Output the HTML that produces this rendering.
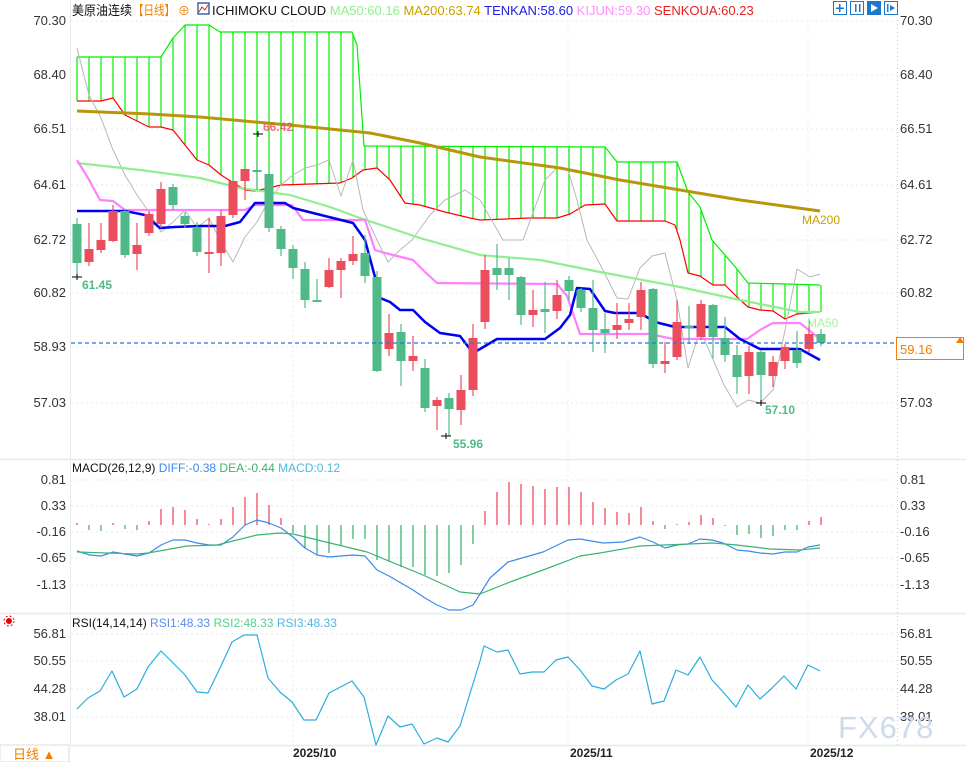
<!DOCTYPE html>
<html><head><meta charset="utf-8"><style>
html,body{margin:0;padding:0;background:#fff;}
body{width:966px;height:762px;overflow:hidden;font-family:"Liberation Sans","Noto Sans CJK SC",sans-serif;}
svg text{font-family:"Liberation Sans","Noto Sans CJK SC",sans-serif;}
</style></head><body>
<svg id="s" width="966" height="762" xmlns="http://www.w3.org/2000/svg">
<g id="g"></g>
<!-- header -->
<text x="72" y="15" font-size="13" fill="#111" textLength="60" lengthAdjust="spacingAndGlyphs">美原油连续</text>
<text x="133" y="15" font-size="13" fill="#f08000" textLength="42" lengthAdjust="spacingAndGlyphs">【日线】</text>
<text x="178" y="15" font-size="12" fill="#f08000">⊕</text>
<rect x="198" y="3" width="11" height="11" fill="none" stroke="#1a3c8c" stroke-width="1.2"/>
<polyline points="199,12 202,7 205,10 208,5" fill="none" stroke="#d22" stroke-width="1"/>
<text x="212" y="15" font-size="13"><tspan fill="#111">ICHIMOKU CLOUD </tspan><tspan fill="#90ee90"> MA50:60.16 </tspan><tspan fill="#c8a000"> MA200:63.74 </tspan><tspan fill="#2020e0"> TENKAN:58.60 </tspan><tspan fill="#ff90ff"> KIJUN:59.30 </tspan><tspan fill="#e82020"> SENKOUA:60.23</tspan></text>
<g fill="none" stroke="#1e78c8" stroke-width="1">
<rect x="833.5" y="1.5" width="13" height="13"/><rect x="850.5" y="1.5" width="13" height="13"/><rect x="867.5" y="1.5" width="13" height="13" fill="#1e78c8"/><rect x="884.5" y="1.5" width="13" height="13"/>
</g>
<g fill="#1e78c8"><rect x="839" y="4" width="1.5" height="8"/><rect x="836" y="7.5" width="8" height="1.5"/><rect x="855" y="4" width="1.5" height="8"/><rect x="859" y="4" width="1.5" height="8"/><rect x="887" y="4" width="1.5" height="8"/><polygon points="890,5 895,8 890,11"/></g>
<polygon points="871,4 878,8 871,12" fill="#fff"/>
<!-- annotations -->
<text x="263" y="131" font-size="12" font-weight="bold" fill="#e85060" opacity="0.8">66.42</text>
<text x="82" y="289" font-size="12" font-weight="bold" fill="#4fb987">61.45</text>
<text x="453" y="448" font-size="12" font-weight="bold" fill="#4fb987">55.96</text>
<text x="765" y="414" font-size="12" font-weight="bold" fill="#4fb987">57.10</text>
<text x="802" y="224" font-size="12" fill="#c8a000">MA200</text>
<text x="807" y="327" font-size="12" fill="#a8f0a8">MA50</text>
<rect x="896.5" y="337.5" width="67" height="22" fill="#fff" stroke="#f57c00"/>
<text x="900" y="354" font-size="13" fill="#f57c00">59.16</text>
<polygon points="956,343 960,337 964,343" fill="#f57c00"/>
<text x="72" y="472" font-size="12" fill="#111">MACD(26,12,9) <tspan fill="#3b8beb">DIFF:-0.38</tspan> <tspan fill="#3cb371"> DEA:-0.44</tspan> <tspan fill="#50b8e0"> MACD:0.12</tspan></text>
<text x="72" y="627" font-size="12" fill="#111">RSI(14,14,14) <tspan fill="#5a8cf0">RSI1:48.33</tspan> <tspan fill="#50d090"> RSI2:48.33</tspan> <tspan fill="#50b8e0"> RSI3:48.33</tspan></text>
<circle cx="9" cy="621" r="3" fill="#e00"/><circle cx="9" cy="621" r="5" fill="none" stroke="#e00" stroke-dasharray="2,2"/>
<text x="293" y="757" font-size="12" font-weight="bold" fill="#222">2025/10</text>
<text x="570" y="757" font-size="12" font-weight="bold" fill="#222">2025/11</text>
<text x="810" y="757" font-size="12" font-weight="bold" fill="#222">2025/12</text>
<rect x="0" y="745" width="69" height="17" fill="#fff" stroke="#ddd"/>
<text x="13" y="759" font-size="13" fill="#f08000">日线 ▲</text>
<text x="838" y="738" font-size="31" fill="#c8d8ea" opacity="0.9" letter-spacing="1">FX678</text>
</svg>
<script>
var g=document.getElementById('g'),h='';
function L(x1,y1,x2,y2,c,w,d){h+='<line x1="'+x1+'" y1="'+y1+'" x2="'+x2+'" y2="'+y2+'" stroke="'+c+'" stroke-width="'+(w||1)+'"'+(d?' stroke-dasharray="'+d+'"':'')+'/>';}
function P(pts,c,w){h+='<polyline fill="none" stroke="'+c+'" stroke-width="'+w+'" stroke-linejoin="round" points="'+pts.map(function(p){return p.join(',')}).join(' ')+'"/>';}
function T(x,y,t,a){h+='<text x="'+x+'" y="'+y+'" font-size="13" fill="#333"'+(a?' text-anchor="end"':'')+'>'+t+'</text>';}
function interp(pts,x){for(var i=0;i<pts.length-1;i++){if(x>=pts[i][0]&&x<=pts[i+1][0]){var t=(x-pts[i][0])/(pts[i+1][0]-pts[i][0]||1);return pts[i][1]+t*(pts[i+1][1]-pts[i][1]);}}return pts[pts.length-1][1];}
L(0,459.5,966,459.5,'#e4eaee',1.5);L(0,613.5,966,613.5,'#e4eaee',1.5);L(70,745.5,966,745.5,'#e4eaee',1.5);
L(70.5,0,70.5,745,'#e6ecf0');L(897.5,20,897.5,745,'#ccc',1,'1,3');
var main=[[21,'70.30'],[75,'68.40'],[129,'66.51'],[185,'64.61'],[240,'62.72'],[293,'60.82'],[347,'58.93'],[403,'57.03']];
main.forEach(function(a){L(71,a[0],897,a[0],'#e8e8e8',1,'2,3');T(66,a[0]+4,a[1],1);T(900,a[0]+4,a[1]);});
var mac=[[480,'0.81'],[506,'0.33'],[532,'-0.16'],[558,'-0.65'],[585,'-1.13']];
mac.forEach(function(a){L(71,a[0],897,a[0],'#e8e8e8',1,'2,3');T(66,a[0]+4,a[1],1);T(900,a[0]+4,a[1]);});
var rs=[[634,'56.81'],[661,'50.55'],[689,'44.28'],[717,'38.01']];
rs.forEach(function(a){L(71,a[0],897,a[0],'#e8e8e8',1,'2,3');T(66,a[0]+4,a[1],1);if(a[1]!='38.01')T(900,a[0]+4,a[1]);});
T(900,721,'38.01');
[293,568,808].forEach(function(x){L(x,20,x,745,'#e8e8e8',1,'2,3');});
var up=[[77,57],[161,57],[173,38],[185,25],[209,25],[220,32],[352,32],[357,45],[364,146],[605,147],[617,162],[677,162],[688,192],[700,207],[712,240],[725,255],[737,269],[748,283],[820,285]];
var lo=[[77,101],[101,101],[113,98],[125,115],[149,127],[161,127],[173,130],[185,145],[197,160],[209,165],[221,175],[245,190],[255,191],[269,188],[281,185],[340,183],[352,178],[363,170],[377,168],[390,180],[405,203],[420,205],[445,212],[470,218],[480,220],[530,218],[557,218],[570,214],[585,205],[605,204],[617,221],[665,221],[675,225],[680,240],[688,273],[700,276],[713,285],[725,285],[737,297],[748,307],[760,310],[773,311],[785,319],[797,314],[820,312]];
for(var i=0;i<63;i++){var x=77+12*i;L(x,interp(up,x),x,interp(lo,x),'#00ee00',1.2);}
P(up,'#00ee00',1.2);P(lo,'#ff0000',1.2);
P([[77,48],[89,95],[101,118],[113,150],[125,175],[137,195],[149,212],[161,232],[173,222],[185,210],[197,228],[209,218],[221,242],[233,262],[245,237],[257,222],[269,200],[281,185],[293,175],[305,168],[317,165],[329,160],[341,196],[353,160],[363,210],[377,240],[388,262],[400,250],[412,240],[430,215],[445,200],[465,190],[480,200],[503,240],[523,240],[545,180],[557,168],[568,170],[577,200],[587,240],[603,270],[617,298],[628,299],[640,268],[652,256],[665,253],[677,300],[688,368],[700,330],[712,357],[724,385],[737,407],[748,400],[760,403],[773,390],[785,330],[797,269],[810,277],[820,274]],'#b8b8b8',1);
P([[77,111],[150,114],[200,117],[300,126],[370,133],[420,143],[480,157],[560,168],[620,180],[680,190],[740,200],[820,211]],'#b8960c',3);
P([[77,163],[140,170],[200,178],[240,188],[290,195],[330,207],[360,218],[420,238],[480,255],[540,260],[600,272],[680,287],[740,300],[800,312],[820,312]],'#90ee90',2.2);
P([[77,160],[88,178],[100,200],[113,201],[125,210],[245,210],[255,205],[292,205],[303,220],[365,220],[375,250],[385,253],[405,258],[413,260],[425,272],[437,283],[557,284],[567,296],[580,334],[650,334],[673,339],[747,339],[760,330],[773,323],[800,323],[820,339]],'#ff80ff',2.2);
P([[77,211],[125,211],[145,215],[160,228],[175,227],[200,226],[225,226],[240,222],[255,203],[285,203],[293,208],[353,223],[365,240],[375,277],[380,298],[390,302],[400,310],[413,310],[425,322],[440,333],[460,336],[473,353],[480,349],[497,339],[545,339],[560,328],[570,315],[577,288],[590,289],[605,311],[615,313],[640,313],[655,322],[675,327],[725,327],[740,339],[760,349],[800,349],[820,360]],'#0000f0',2.5);
var C=[[224,263,218,277],[262,249,223,266],[250,240,223,253],[241,211,205,242],[211,255,209,258],[254,245,223,270],[233,214,211,236],[224,189,182,228],[187,205,184,210],[216,224,212,228],[227,252,222,256],[254,252,218,273],[253,216,210,266],[215,181,181,218],[181,169,169,200],[170,171,160,190],[174,228,172,232],[229,249,226,256],[249,268,245,279],[269,300,262,308],[300,301,279,302],[287,270,258,288],[270,261,258,298],[261,254,236,265],[253,276,235,283],[277,371,271,372],[349,333,314,356],[332,361,324,386],[361,356,336,371],[368,408,359,412],[406,400,397,430],[398,409,393,436],[410,390,375,425],[390,338,324,396],[322,270,255,329],[268,275,244,290],[268,275,258,300],[277,315,276,325],[315,310,290,327],[309,312,282,333],[311,295,280,319],[280,291,276,300],[290,308,288,312],[308,330,280,352],[329,333,313,353],[330,325,303,339],[323,319,303,330],[317,290,282,330],[289,364,288,368],[364,361,342,373],[357,322,300,360],[326,327,306,344],[337,304,300,340],[305,337,304,358],[338,355,317,362],[355,377,345,394],[376,352,346,394],[352,375,350,403],[376,362,356,387],[361,347,344,369],[350,363,331,368],[349,334,320,352],[334,343,329,346]];
C.forEach(function(c,i){var x=77+12*i,red=c[0]>c[1],col=red?'#ec4d5d':'#4fb987';L(x,c[2],x,c[3],col,1.2);var t=Math.min(c[0],c[1]),b=Math.max(c[0],c[1]);if(b-t<2)b=t+2;h+='<rect x="'+(x-4.5)+'" y="'+t+'" width="9" height="'+(b-t)+'" fill="'+col+'"/>';});
L(72,277,82,277,'#000');L(77,274,77,280,'#000');L(441,436,451,436,'#000');L(446,433,446,439,'#000');L(756,403,766,403,'#000');L(761,400,761,406,'#000');L(253,134,263,134,'#000');L(258,131,258,137,'#000');
L(71,343,897,343,'#1e78e0',1.2,'4,3');
var H=[523,530,531,523,529,530,521,509,507,510,519,524,519,507,497,493,505,518,533,548,555,553,546,539,539,560,562,567,567,575,576,573,565,544,511,492,482,484,486,489,487,487,492,502,508,512,513,507,521,529,524,522,515,518,526,535,534,538,536,530,530,521,517];
H.forEach(function(y,i){var x=77+12*i;L(x,525,x,y,y<525?'#ec4d5d':'#3cb371',1.3);});
P([[77,551],[90,555],[101,556],[113,552],[125,554],[137,556],[149,553],[161,545],[173,540],[185,540],[197,543],[209,545],[221,545],[233,537],[245,525],[257,520],[269,523],[281,528],[293,537],[305,548],[317,555],[329,557],[341,556],[353,555],[365,556],[377,570],[389,576],[401,583],[413,590],[425,598],[437,605],[449,610],[461,610],[473,605],[480,594],[490,578],[508,562],[543,552],[568,540],[580,539],[603,543],[623,542],[640,537],[653,542],[665,548],[677,545],[688,544],[700,539],[712,540],[723,543],[737,550],[748,551],[760,553],[773,554],[785,552],[797,552],[808,547],[820,545]],'#3b8beb',1.2);
P([[77,552],[137,554],[148,553],[187,546],[217,545],[257,535],[280,533],[293,534],[367,552],[423,575],[460,592],[480,594],[510,582],[543,570],[580,556],[600,553],[640,546],[713,543],[737,545],[770,549],[800,550],[820,548]],'#3cb371',1.2);
P([[77,709],[88,698],[100,691],[112,671],[124,697],[137,689],[148,667],[161,651],[173,663],[185,675],[197,692],[208,693],[220,668],[232,642],[244,635],[257,635],[268,678],[280,692],[292,702],[304,720],[316,720],[329,693],[352,681],[364,697],[376,745],[388,716],[400,727],[412,724],[424,744],[437,738],[448,742],[460,726],[480,661],[484,646],[497,652],[508,650],[520,674],[532,672],[544,672],[556,660],[568,657],[580,670],[592,686],[604,689],[616,680],[628,674],[640,651],[652,704],[664,701],[676,670],[688,675],[700,657],[712,680],[724,693],[736,707],[748,685],[760,699],[772,688],[784,676],[796,689],[808,665],[820,671]],'#29aee0',1.2);
g.innerHTML=h;
</script>
</body></html>
